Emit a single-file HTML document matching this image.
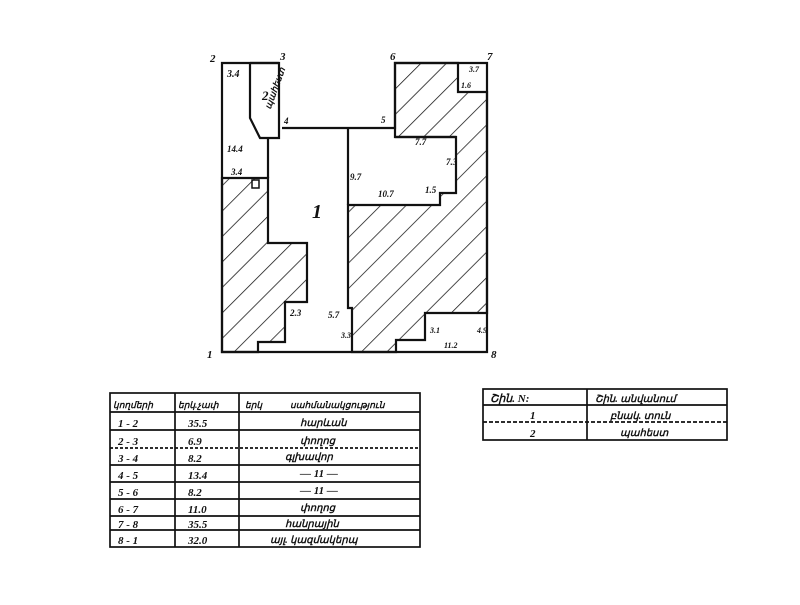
<!DOCTYPE html>
<html><head><meta charset="utf-8"><style>
body{margin:0;background:#fff}
svg text{font-family:"Liberation Serif",serif;font-style:italic;fill:#111;font-weight:600}
</style></head><body>
<svg width="800" height="600" viewBox="0 0 800 600" xmlns="http://www.w3.org/2000/svg">
<defs>
<pattern id="h" width="18" height="18" patternUnits="userSpaceOnUse" patternTransform="rotate(-45)">
<line x1="0" y1="0" x2="18" y2="0" stroke="#111" stroke-width="1.6"/>
</pattern>
</defs>
<rect width="800" height="600" fill="#fff"/>
<g stroke="#111" stroke-width="2.2" fill="none">
<polygon fill="url(#h)" points="395,63 458,63 458,92 487,92 487,313 425,313 425,340 396,340 396,352 352,352 352,308 348,308 348,205 440,205 440,193 456,193 456,137 395,137"/>
<polygon fill="url(#h)" points="222,178 268,178 268,243 307,243 307,302 285,302 285,342 258,342 258,352 222,352"/>
<polyline points="279,63 222,63 222,352 487,352 487,63 395,63 395,128 282,128"/>
<polyline points="250,63 279,63 279,138 260,138 250,118 250,63"/>
<polyline points="268,138 268,178"/>
<polyline points="348,128 348,205"/>
<polyline points="395,137 456,137"/>
<rect x="252" y="180" width="7" height="8" stroke-width="1.5"/>
</g>
<g font-size="11">
<text x="210" y="62">2</text><text x="280" y="60">3</text><text x="390" y="60">6</text><text x="487" y="60">7</text>
<text x="207" y="358">1</text><text x="491" y="358">8</text>
<text x="227" y="77" font-size="10">3.4</text><text x="262" y="100" font-size="13">2</text>
<text x="253" y="115" font-size="9" transform="rotate(-70 258 100)">պահեստ</text>
<text x="284" y="124" font-size="9">4</text><text x="381" y="123" font-size="9">5</text>
<text x="227" y="152" font-size="9">14.4</text><text x="231" y="175" font-size="9">3.4</text>
<text x="312" y="218" font-size="20">1</text>
<text x="350" y="180" font-size="9">9.7</text><text x="378" y="197" font-size="9">10.7</text>
<text x="415" y="145" font-size="9">7.7</text><text x="446" y="165" font-size="9">7.3</text>
<text x="425" y="193" font-size="9">1.5</text><text x="469" y="72" font-size="8">3.7</text>
<text x="461" y="88" font-size="8">1.6</text>
<text x="290" y="316" font-size="9">2.3</text><text x="328" y="318" font-size="9">5.7</text>
<text x="341" y="338" font-size="8">3.3</text><text x="430" y="333" font-size="8">3.1</text>
<text x="477" y="333" font-size="8">4.9</text><text x="444" y="348" font-size="8">11.2</text>
</g>
<g stroke="#111" stroke-width="1.7" fill="none">
<rect x="110" y="393" width="310" height="154"/>
<line x1="175" y1="393" x2="175" y2="547"/><line x1="239" y1="393" x2="239" y2="547"/>
<line x1="110" y1="412" x2="420" y2="412"/><line x1="110" y1="430" x2="420" y2="430"/>
<line x1="110" y1="448" x2="420" y2="448" stroke-dasharray="3 2"/><line x1="110" y1="465" x2="420" y2="465"/>
<line x1="110" y1="482" x2="420" y2="482"/><line x1="110" y1="499" x2="420" y2="499"/>
<line x1="110" y1="516" x2="420" y2="516"/><line x1="110" y1="530" x2="420" y2="530"/>
<rect x="483" y="389" width="244" height="51"/>
<line x1="587" y1="389" x2="587" y2="440"/>
<line x1="483" y1="405" x2="727" y2="405"/><line x1="483" y1="422" x2="727" y2="422" stroke-dasharray="4 2"/>
</g>
<g font-size="11">
<text x="113" y="408" font-size="9">կողմերի</text><text x="178" y="408" font-size="9">երկ.չափ</text><text x="245" y="408" font-size="9">երկ</text><text x="290" y="408" font-size="9">սահմանակցություն</text>
<text x="118" y="427">1 - 2</text><text x="188" y="427">35.5</text><text x="300" y="426" font-size="10">հարևան</text>
<text x="118" y="445">2 - 3</text><text x="188" y="445">6.9</text><text x="300" y="444" font-size="10">փողոց</text>
<text x="118" y="462">3 - 4</text><text x="188" y="462">8.2</text><text x="285" y="460" font-size="10">գլխավոր</text>
<text x="118" y="479">4 - 5</text><text x="188" y="479">13.4</text><text x="300" y="477">— 11 —</text>
<text x="118" y="496">5 - 6</text><text x="188" y="496">8.2</text><text x="300" y="494">— 11 —</text>
<text x="118" y="513">6 - 7</text><text x="188" y="513">11.0</text><text x="300" y="511" font-size="10">փողոց</text>
<text x="118" y="528">7 - 8</text><text x="188" y="528">35.5</text><text x="285" y="527" font-size="10">հանրային</text>
<text x="118" y="544">8 - 1</text><text x="188" y="544">32.0</text><text x="270" y="543" font-size="10">այլ. կազմակերպ</text>
<text x="490" y="402">Շին. N:</text><text x="595" y="402" font-size="10">Շին. անվանում</text>
<text x="530" y="419">1</text><text x="610" y="419" font-size="10">բնակ. տուն</text>
<text x="530" y="437">2</text><text x="620" y="436" font-size="10">պահեստ</text>
</g>
</svg>
</body></html>
